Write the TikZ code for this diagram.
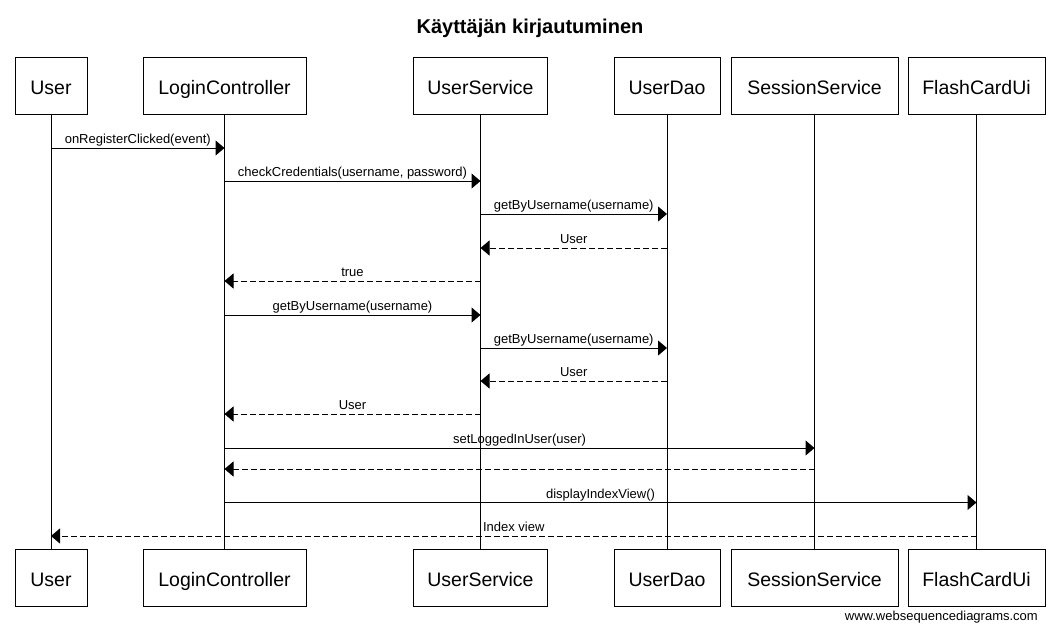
\documentclass[tikz,border=0pt]{standalone}
\usepackage{fontspec}
\setmainfont{Liberation Sans}
\usetikzlibrary{arrows.meta}
\begin{document}
\begin{tikzpicture}[x=1pt,y=-1pt,
  actor/.style={draw=black,line width=1pt,fill=white,minimum height=57pt,inner sep=0pt,text height=14pt,text depth=0pt,font=\fontsize{19.5}{22}\selectfont},
  alabel/.style={inner sep=0pt,anchor=base,font=\fontsize{19.5}{22}\selectfont},
  life/.style={line width=1pt,black},
  call/.style={line width=1pt,-{Triangle[length=9pt,width=15pt]}},
  ret/.style={line width=1pt,dash pattern=on 6pt off 3pt,-{Triangle[length=9pt,width=15pt]}},
  lbl/.style={font=\fontsize{13}{15}\selectfont,anchor=base,inner sep=0pt,yshift=4.5pt}]
\useasboundingbox (0,0) rectangle (1060,630);
\fill[white] (0,0) rectangle (1060,630);
\node[font=\bfseries\fontsize{20}{24}\selectfont,anchor=base,inner sep=0pt] (title) at (530,33) {Käyttäjän kirjautuminen};
% top actors
\node[actor,minimum width=72pt]  (uT) at (51,85.5) {};
\node[actor,minimum width=163pt] (lT) at (224.5,85.5) {};
\node[actor,minimum width=134pt] (sT) at (480.5,85.5) {};
\node[actor,minimum width=106pt] (dT) at (667,85.5) {};
\node[actor,minimum width=167pt] (eT) at (814.5,85.5) {};
\node[actor,minimum width=137pt] (fT) at (976.5,85.5) {};
% bottom actors
\node[actor,minimum width=72pt]  (uB) at (51,578) {};
\node[actor,minimum width=163pt] (lB) at (224.5,578) {};
\node[actor,minimum width=134pt] (sB) at (480.5,578) {};
\node[actor,minimum width=106pt] (dB) at (667,578) {};
\node[actor,minimum width=167pt] (eB) at (814.5,578) {};
\node[actor,minimum width=137pt] (fB) at (976.5,578) {};
% actor names
\foreach \a/\t in {u/User,l/LoginController,s/UserService,d/UserDao,e/SessionService,f/FlashCardUi}{
  \node[alabel] (\a Tn) at ([yshift=-8.5pt]\a T.center) {\t};
  \node[alabel] (\a Bn) at ([yshift=-8.5pt]\a B.center) {\t};
}
% lifelines
\foreach \a in {u,l,s,d,e,f}{\draw[life] (\a T.south) -- (\a B.north);}
\newcommand{\msg}[5]{\draw[#5] (#1T.south |- 0,#3) -- node[lbl]{#4} (#2T.south |- 0,#3);}
\msg{u}{l}{148}{onRegisterClicked(event)}{call}
\msg{l}{s}{181}{checkCredentials(username, password)}{call}
\msg{s}{d}{214}{getByUsername(username)}{call}
\msg{d}{s}{248}{User}{ret}
\msg{s}{l}{281}{true}{ret}
\msg{l}{s}{315}{getByUsername(username)}{call}
\msg{s}{d}{348}{getByUsername(username)}{call}
\msg{d}{s}{381}{User}{ret}
\msg{s}{l}{414}{User}{ret}
\msg{l}{e}{448}{setLoggedInUser(user)}{call}
\msg{e}{l}{469}{}{ret}
\msg{l}{f}{502.5}{displayIndexView()}{call}
\msg{f}{u}{536}{Index view}{ret}
\node[font=\fontsize{13}{15}\selectfont,anchor=base east,inner sep=0pt] (wm) at (1038,620) {www.websequencediagrams.com};
\end{tikzpicture}
\end{document}
